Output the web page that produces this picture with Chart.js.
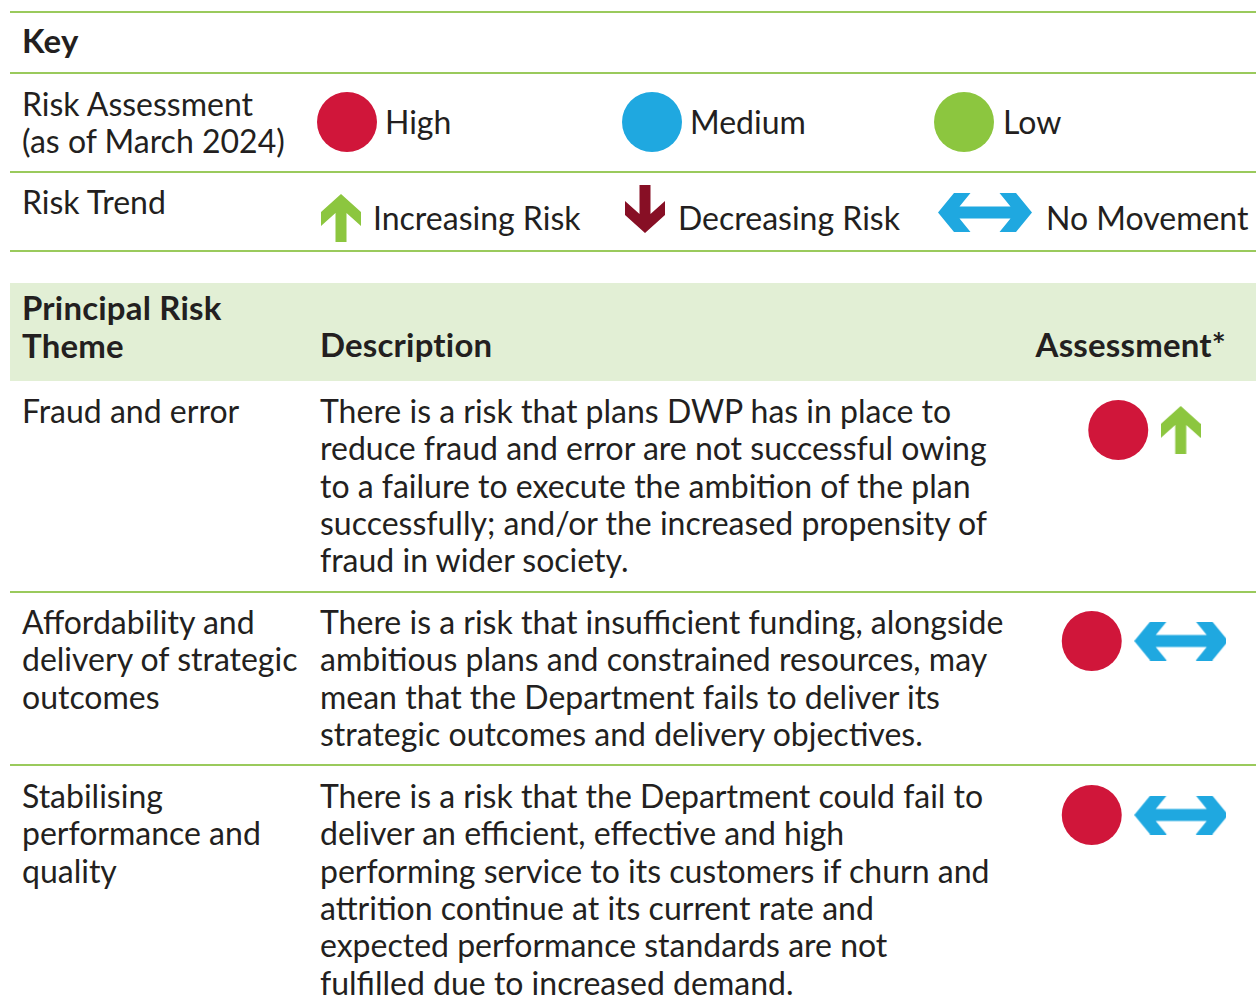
<!DOCTYPE html>
<html>
<head>
<meta charset="utf-8">
<script src="https://cdn.jsdelivr.net/npm/chart.js@4.4.1/dist/chart.umd.min.js"></script>
<style>
  html, body { margin: 0; padding: 0; background: #fff; }
  #page { position: relative; width: 1256px; height: 1006px; overflow: hidden; font-family: Lato, sans-serif; color: #231f20; }
  .rule { position: absolute; left: 10px; right: 0; height: 2px; background: #9aca5c; }
  .band { position: absolute; left: 10px; right: 0; top: 283px; height: 98px; background: #e2efd5; }
  .txt { position: absolute; white-space: pre; }
  .b { font-weight: 700; letter-spacing: 0.2px; }
  canvas { position: absolute; }
</style>
</head>
<body>
<div id="page"></div>
<script>
// key levels
const ratingLevels = ['High', 'Medium', 'Low'];
const trendLevels = ['Increasing Risk', 'Decreasing Risk', 'No Movement'];

// principal risks
const themes = [
  ['Fraud and error'],
  ['Affordability and', 'delivery of strategic', 'outcomes'],
  ['Stabilising', 'performance and', 'quality']
];
const descriptions = [
  ['There is a risk that plans DWP has in place to',
   'reduce fraud and error are not successful owing',
   'to a failure to execute the ambition of the plan',
   'successfully; and/or the increased propensity of',
   'fraud in wider society.'],
  ['There is a risk that insufficient funding, alongside',
   'ambitious plans and constrained resources, may',
   'mean that the Department fails to deliver its',
   'strategic outcomes and delivery objectives.'],
  ['There is a risk that the Department could fail to',
   'deliver an efficient, effective and high',
   'performing service to its customers if churn and',
   'attrition continue at its current rate and',
   'expected performance standards are not',
   'fulfilled due to increased demand.']
];
const ratings = ['High', 'High', 'High'];
const trends = ['Increasing Risk', 'No Movement', 'No Movement'];

// styles
const colours = {
  'High': '#d0163a', 'Medium': '#1fa8e0', 'Low': '#8cc63f',
  'Increasing Risk': '#8cc63f', 'Decreasing Risk': '#870f25', 'No Movement': '#1fa8e0'
};

const page = document.getElementById('page');

// text sizing
const probe = document.createElement('canvas').getContext('2d');
probe.font = '100px Lato';
const FS = 100 * 632 / probe.measureText(descriptions[0][0]).width;
probe.font = FS + 'px Lato';
const fm = probe.measureText('Hg');
const LH = 37.4;
const baseOff = (LH - (fm.fontBoundingBoxAscent + fm.fontBoundingBoxDescent)) / 2 + fm.fontBoundingBoxAscent;

function addText(lines, x, baseline, bold, right) {
  const d = document.createElement('div');
  const fs = bold ? FS * 1.03 : FS;
  d.className = 'txt' + (bold ? ' b' : '');
  d.style.fontSize = fs + 'px';
  d.style.lineHeight = LH + 'px';
  d.style.top = (baseline - baseOff * fs / FS - (LH - LH * fs / FS) / 2) + 'px';
  if (right) d.style.right = (1256 - x) + 'px'; else d.style.left = x + 'px';
  d.textContent = lines.join('\n');
  page.appendChild(d);
}

function addRule(y) {
  const d = document.createElement('div');
  d.className = 'rule';
  d.style.top = y + 'px';
  page.appendChild(d);
}

function arrowImage(kind) {
  const c = document.createElement('canvas');
  const g = c.getContext('2d');
  let pts;
  if (kind === 'No Movement') {
    c.width = 94; c.height = 39;
    pts = [[0, 19.5], [16, 0], [32.5, 0], [21.5, 13.5], [72.5, 13.5], [61.5, 0], [78, 0], [94, 19.5],
           [78, 39], [61.5, 39], [72.5, 25.5], [21.5, 25.5], [32.5, 39], [16, 39]];
  } else {
    c.width = 40; c.height = 48;
    pts = [[20, 0], [40, 18], [40, 32], [25.5, 19], [25.5, 48], [14.5, 48], [14.5, 19], [0, 32], [0, 18]];
    if (kind === 'Decreasing Risk') pts = pts.map(p => [p[0], 48 - p[1]]);
  }
  g.fillStyle = colours[kind];
  g.beginPath();
  pts.forEach((p, i) => i ? g.lineTo(p[0], p[1]) : g.moveTo(p[0], p[1]));
  g.closePath();
  g.fill();
  return c;
}

// one chart per cell, symbols placed on a category axis
function symbolChart(left, top, width, height, items) {
  const cv = document.createElement('canvas');
  cv.width = width; cv.height = height;
  cv.style.left = left + 'px'; cv.style.top = top + 'px';
  page.appendChild(cv);
  const cats = items.map((d, i) => d + ' ' + i);
  new Chart(cv, {
    type: 'scatter',
    data: {
      datasets: [{
        data: items.map((d, i) => ({ x: cats[i], y: 'row' })),
        pointStyle: items.map(d => ratingLevels.includes(d) ? 'circle' : arrowImage(d)),
        pointRadius: 30,
        pointHoverRadius: 30,
        backgroundColor: items.map(d => colours[d]),
        borderWidth: 0,
        clip: false
      }]
    },
    options: {
      responsive: false,
      animation: false,
      events: [],
      layout: { padding: 0, autoPadding: false },
      plugins: { legend: { display: false }, tooltip: { enabled: false } },
      scales: {
        x: { type: 'category', labels: cats, offset: true, display: false },
        y: { type: 'category', labels: ['row'], offset: true, display: false }
      }
    }
  });
}

// rules and header band
[11, 72, 171, 250, 591, 764].forEach(addRule);
const band = document.createElement('div');
band.className = 'band';
page.appendChild(band);

// key
addText(['Key'], 22, 54, true);
addText(['Risk Assessment', '(as of March 2024)'], 22, 116);
addText(['Risk Trend'], 22, 214);

const keyCircleX = [317, 622, 934];
const keyLabelX = [385, 690, 1003];
ratingLevels.forEach((r, i) => {
  symbolChart(keyCircleX[i] - 1, 91, 62, 62, [r]);
  addText([r], keyLabelX[i], 134);
});

const keyArrowPos = [[321, 194, 40, 48], [625, 185, 40, 48], [938, 193, 94, 39]];
const keyTrendLabelX = [373, 678, 1046];
trendLevels.forEach((t, i) => {
  const p = keyArrowPos[i];
  symbolChart(p[0], p[1], p[2], p[3], [t]);
  addText([t], keyTrendLabelX[i], 230);
});

// table header
addText(['Principal Risk', 'Theme'], 22, 321, true);
addText(['Description'], 320, 358, true);
addText(['Assessment*'], 1226, 358, true, true);

// table rows
const rowBaselines = [423, 634, 808];
const symbolCentres = [429.5, 641, 815];
themes.forEach((t, i) => {
  addText(t, 22, rowBaselines[i]);
  addText(descriptions[i], 320, rowBaselines[i]);
  const arrowW = trends[i] === 'No Movement' ? 94 : 40;
  const w = 2 * (30 + 12.5 + arrowW / 2);
  symbolChart(1181 - 0.75 * w, symbolCentres[i] - 31, w, 62, [ratings[i], trends[i]]);
});
</script>
</body>
</html>
